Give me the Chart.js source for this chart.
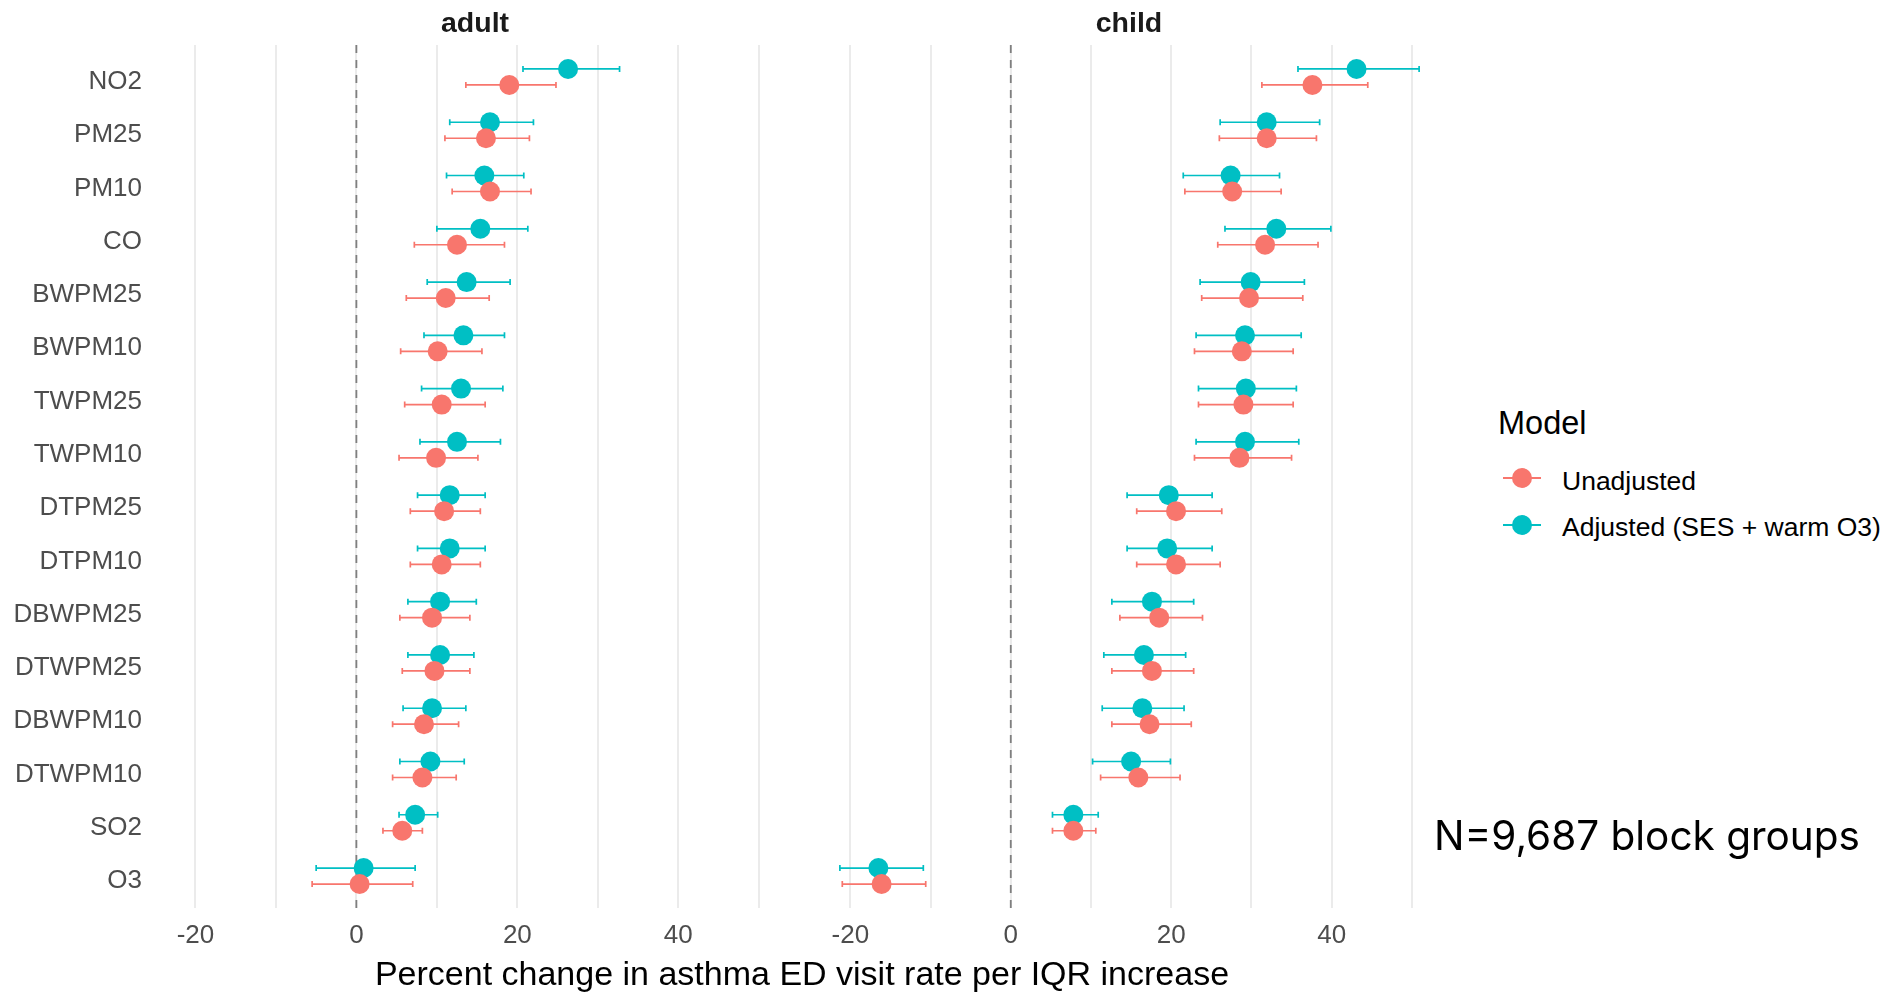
<!DOCTYPE html>
<html>
<head>
<meta charset="utf-8">
<script src="https://cdn.jsdelivr.net/npm/chart.js@4.4.1/dist/chart.umd.min.js"></script>
<style>
  body { margin: 0; background: #fff; }
  #wrap { position: relative; width: 1891px; height: 993px; overflow: hidden; background: #fff;
          font-family: "Liberation Sans", Arial, sans-serif; }
  canvas { position: absolute; top: 0; }
  .txt { position: absolute; line-height: 1; white-space: nowrap; }
  .strip { font-size: 28.5px; font-weight: bold; color: #1a1a1a; top: 8px; transform: translateX(-50%); }
  .key { position: absolute; width: 38px; height: 2px; }
  .key span { position: absolute; left: 9px; top: -9px; width: 20px; height: 20px; border-radius: 50%; }
</style>
</head>
<body>
<div id="wrap">
  <canvas id="adult" width="795" height="993" style="left:0"></canvas>
  <canvas id="child" width="637" height="993" style="left:811px"></canvas>

  <div class="txt strip" style="left:475px">adult</div>
  <div class="txt strip" style="left:1129px">child</div>
  <div class="txt" style="left:802px; top:956px; font-size:34px; color:#000; transform:translateX(-50%)">Percent change in asthma ED visit rate per IQR increase</div>

  <div class="txt" style="left:1498px; top:407px; font-size:32.5px; color:#000">Model</div>
  <div class="key" style="left:1503px; top:477px; background:#F8766D"><span style="background:#F8766D"></span></div>
  <div class="txt" style="left:1562px; top:468px; font-size:26.5px; color:#000">Unadjusted</div>
  <div class="key" style="left:1503px; top:524px; background:#00BFC4"><span style="background:#00BFC4"></span></div>
  <div class="txt" style="left:1562px; top:514px; font-size:26.5px; color:#000">Adjusted (SES + warm O3)</div>

  <div class="txt" style="left:1434px; top:816px; font-size:40.5px; color:#000; font-family:Inter, 'Noto Sans', sans-serif">N=9,687 block groups</div>
</div>

<script>
const pollutants = ['NO2','PM25','PM10','CO','BWPM25','BWPM10','TWPM25','TWPM10',
                    'DTPM25','DTPM10','DBWPM25','DTWPM25','DBWPM10','DTWPM10','SO2','O3'];

// adult, unadjusted
const adultUnadj   = [19.0, 16.1, 16.6, 12.5, 11.1, 10.1, 10.6,  9.9, 10.9, 10.6,  9.4,  9.7,  8.4,  8.2, 5.7,  0.4];
const adultUnadjLo = [13.6, 11.0, 11.9,  7.2,  6.2,  5.5,  6.0,  5.3,  6.7,  6.7,  5.4,  5.7,  4.5,  4.5, 3.3, -5.5];
const adultUnadjHi = [24.8, 21.5, 21.7, 18.4, 16.5, 15.6, 16.0, 15.1, 15.4, 15.4, 14.1, 14.1, 12.7, 12.4, 8.2,  7.0];
// adult, adjusted
const adultAdj     = [26.3, 16.6, 15.9, 15.4, 13.7, 13.3, 13.0, 12.5, 11.6, 11.6, 10.4, 10.4,  9.4,  9.2, 7.3,  0.9];
const adultAdjLo   = [20.7, 11.6, 11.2, 10.0,  8.8,  8.4,  8.1,  7.9,  7.6,  7.6,  6.4,  6.4,  5.8,  5.4, 5.3, -5.0];
const adultAdjHi   = [32.7, 22.0, 20.8, 21.3, 19.1, 18.4, 18.2, 17.9, 16.0, 16.0, 14.9, 14.6, 13.6, 13.4, 10.1, 7.3];

// child, unadjusted
const childUnadj   = [37.6, 31.9, 27.6, 31.7, 29.7, 28.8, 29.0, 28.5, 20.6, 20.6, 18.5, 17.6, 17.3, 15.9, 7.8, -16.1];
const childUnadjLo = [31.3, 26.0, 21.7, 25.8, 23.8, 22.9, 23.4, 22.9, 15.7, 15.7, 13.6, 12.6, 12.6, 11.2, 5.2, -21.0];
const childUnadjHi = [44.5, 38.1, 33.7, 38.3, 36.4, 35.2, 35.2, 35.0, 26.3, 26.1, 23.9, 22.8, 22.5, 21.1, 10.6, -10.6];
// child, adjusted
const childAdj     = [43.1, 31.9, 27.4, 33.1, 29.9, 29.2, 29.3, 29.2, 19.7, 19.5, 17.6, 16.6, 16.4, 15.0, 7.8, -16.5];
const childAdjLo   = [35.8, 26.1, 21.5, 26.7, 23.6, 23.1, 23.4, 23.1, 14.5, 14.5, 12.6, 11.6, 11.4, 10.2, 5.2, -21.3];
const childAdjHi   = [50.9, 38.5, 33.5, 39.9, 36.6, 36.2, 35.6, 35.9, 25.1, 25.1, 22.8, 21.8, 21.6, 19.9, 10.9, -10.9];

const xGrid = [-20, -10, 0, 10, 20, 30, 40, 50];
const xMin = -24.9, xMax = 54.5;

const RED = '#F8766D';
const TEAL = '#00BFC4';
const DODGE = 0.15;

// error bars + dashed zero line, drawn through the chart scales
const forestPlugin = {
    id: 'forest',
    beforeDatasetsDraw(chart) {
        const { ctx, chartArea, scales } = chart;
        const x = scales.x, y = scales.y;
        ctx.save();
        ctx.strokeStyle = '#7f7f7f';
        ctx.lineWidth = 1.8;
        ctx.setLineDash([8, 7]);
        const x0 = x.getPixelForValue(0);
        ctx.beginPath();
        ctx.moveTo(x0, chartArea.top);
        ctx.lineTo(x0, chartArea.bottom);
        ctx.stroke();
        ctx.setLineDash([]);

        chart.data.datasets.forEach(ds => {
            ctx.strokeStyle = ds.backgroundColor;
            ctx.lineWidth = 1.7;
            ds.data.forEach((p, i) => {
                const py = y.getPixelForValue(p.y);
                const a = x.getPixelForValue(ds.lo[i]);
                const b = x.getPixelForValue(ds.hi[i]);
                ctx.beginPath();
                ctx.moveTo(a, py); ctx.lineTo(b, py);
                ctx.moveTo(a, py - 3); ctx.lineTo(a, py + 3);
                ctx.moveTo(b, py - 3); ctx.lineTo(b, py + 3);
                ctx.stroke();
            });
        });
        ctx.restore();
    }
};

function makeSeries(label, vals, lo, hi, color, shift) {
    return {
        label,
        data: vals.map((v, i) => ({ x: v, y: i + 1 + shift })),
        lo, hi,
        backgroundColor: color,
        borderColor: color,
        borderWidth: 0,
        pointRadius: 10,
        pointHoverRadius: 10,
        pointStyle: 'circle'
    };
}

function makePanel(id, unadj, unadjLo, unadjHi, adj, adjLo, adjHi, showY) {
    const ctx = document.getElementById(id).getContext('2d');
    return new Chart(ctx, {
        type: 'scatter',
        data: {
            datasets: [
                makeSeries('Unadjusted', unadj, unadjLo, unadjHi, RED, DODGE),
                makeSeries('Adjusted (SES + warm O3)', adj, adjLo, adjHi, TEAL, -DODGE)
            ]
        },
        options: {
            responsive: false,
            animation: false,
            devicePixelRatio: 1,
            layout: { autoPadding: false, padding: { top: 45, right: 0, bottom: 0, left: 0 } },
            plugins: { legend: { display: false }, tooltip: { enabled: false } },
            scales: {
                x: {
                    type: 'linear',
                    min: xMin,
                    max: xMax,
                    afterBuildTicks: s => { s.ticks = xGrid.map(v => ({ value: v })); },
                    afterFit: s => { s.height = 85; },
                    grid: { color: '#EBEBEB', lineWidth: 2, drawTicks: false },
                    border: { display: false },
                    ticks: {
                        autoSkip: false,
                        maxRotation: 0,
                        padding: 12,
                        color: '#4D4D4D',
                        font: { family: 'Liberation Sans', size: 26 },
                        callback: v => (v % 20 === 0 ? v : '')
                    }
                },
                y: {
                    type: 'linear',
                    display: showY,
                    reverse: true,
                    min: 0.4,
                    max: 16.6,
                    afterBuildTicks: s => { s.ticks = pollutants.map((p, i) => ({ value: i + 1 })); },
                    afterFit: s => { s.width = showY ? 156 : 0; },
                    grid: { display: false },
                    border: { display: false },
                    ticks: {
                        autoSkip: false,
                        padding: 6,
                        labelOffset: 5,
                        color: '#4D4D4D',
                        font: { family: 'Liberation Sans', size: 26 },
                        callback: v => pollutants[v - 1]
                    }
                }
            }
        },
        plugins: [forestPlugin]
    });
}

makePanel('adult', adultUnadj, adultUnadjLo, adultUnadjHi, adultAdj, adultAdjLo, adultAdjHi, true);
makePanel('child', childUnadj, childUnadjLo, childUnadjHi, childAdj, childAdjLo, childAdjHi, false);
</script>
</body>
</html>
